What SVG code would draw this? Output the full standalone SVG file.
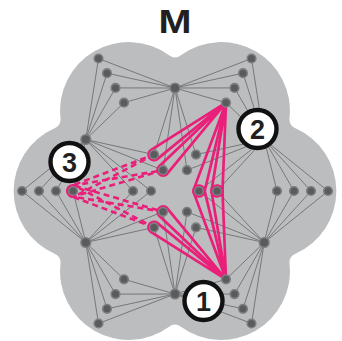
<svg xmlns="http://www.w3.org/2000/svg" width="342" height="341" viewBox="0 0 342 341">
<style>
.blob{fill:#bcbdbf}
.ln{fill:none;stroke:#6e6f72;stroke-width:0.9}
.nd{fill:#5a5b5d;stroke:#7d7e80;stroke-width:1.6}
.pk{fill:none;stroke:#ea1f7a;stroke-width:2.7;stroke-linejoin:round}
.pd{fill:none;stroke:#ea1f7a;stroke-width:2.6;stroke-dasharray:6 4;stroke-linejoin:round}
.lc{fill:#fff;stroke:#111;stroke-width:4.4}
.lt{font-family:"Liberation Sans",Arial,sans-serif;font-weight:bold;font-size:27px;fill:#231f20;text-anchor:middle}
.tt{font-family:"Liberation Sans",Arial,sans-serif;font-weight:bold;font-size:33px;fill:#231f20;text-anchor:middle}
</style>
<path class="blob" d="M180.92 55.35A68.5 68.5 0 0 1 289.51 118.05A10 10 0 0 0 295.44 128.3A68.5 68.5 0 0 1 295.44 253.7A10 10 0 0 0 289.51 263.95A68.5 68.5 0 0 1 180.92 326.65A10 10 0 0 0 169.08 326.65A68.5 68.5 0 0 1 60.49 263.95A10 10 0 0 0 54.56 253.7A68.5 68.5 0 0 1 54.56 128.3A10 10 0 0 0 60.49 118.05A68.5 68.5 0 0 1 169.08 55.35A10 10 0 0 0 180.92 55.35Z"/>
<text class="tt" x="175" y="33" textLength="33" lengthAdjust="spacingAndGlyphs">M</text>
<g id="connectors">
<path class="ln" d="M175 88L163 170.2M175 88L154 154.6M175 88L124 102.7M175 88L115.5 87.9M175 88L107 73.2M175 88L98.5 58.5M175 88L187 170.2M175 88L196 154.6M175 88L226 102.7M175 88L234.5 87.9M175 88L243 73.2M175 88L251.5 58.5"/>
<path class="ln" d="M175 294L187 211.8M175 294L196 227.4M175 294L226 279.3M175 294L234.5 294.1M175 294L243 308.8M175 294L251.5 323.5M175 294L163 211.8M175 294L154 227.4M175 294L124 279.3M175 294L115.5 294.1M175 294L107 308.8M175 294L98.5 323.5"/>
<path class="ln" d="M264.2 242.5L199 191M264.2 242.5L217 191M264.2 242.5L277 191M264.2 242.5L294 191M264.2 242.5L311 191M264.2 242.5L328 191M264.2 242.5L187 211.8M264.2 242.5L196 227.4M264.2 242.5L226 279.3M264.2 242.5L234.5 294.1M264.2 242.5L243 308.8M264.2 242.5L251.5 323.5"/>
<path class="ln" d="M264.2 139.5L199 191M264.2 139.5L217 191M264.2 139.5L277 191M264.2 139.5L294 191M264.2 139.5L311 191M264.2 139.5L328 191M264.2 139.5L187 170.2M264.2 139.5L196 154.6M264.2 139.5L226 102.7M264.2 139.5L234.5 87.9M264.2 139.5L243 73.2M264.2 139.5L251.5 58.5"/>
<path class="ln" d="M85.8 242.5L151 191M85.8 242.5L133 191M85.8 242.5L73 191M85.8 242.5L56 191M85.8 242.5L39 191M85.8 242.5L22 191M85.8 242.5L163 211.8M85.8 242.5L154 227.4M85.8 242.5L124 279.3M85.8 242.5L115.5 294.1M85.8 242.5L107 308.8M85.8 242.5L98.5 323.5"/>
<path class="ln" d="M85.8 139.5L151 191M85.8 139.5L133 191M85.8 139.5L73 191M85.8 139.5L56 191M85.8 139.5L39 191M85.8 139.5L22 191M85.8 139.5L163 170.2M85.8 139.5L154 154.6M85.8 139.5L124 102.7M85.8 139.5L115.5 87.9M85.8 139.5L107 73.2M85.8 139.5L98.5 58.5"/>
</g>
<g id="highlight-2">
<path class="pk" d="M226 102.67L150.78 150.17A5.5 5.5 0 0 0 157.22 159.09Z"/>
<path class="pk" d="M226 102.67L158.98 166.47A5.5 5.5 0 0 0 167.02 173.97Z"/>
<path class="pk" d="M226 102.67L193.74 189.39A5.5 5.5 0 0 0 204.26 192.61Z"/>
<path class="pk" d="M226 102.67L211.53 190.44A5.5 5.5 0 0 0 222.47 191.56Z"/>
</g>
<g id="highlight-1">
<path class="pk" d="M226 279.33L204.26 189.39A5.5 5.5 0 0 0 193.74 192.61Z"/>
<path class="pk" d="M226 279.33L222.47 190.44A5.5 5.5 0 0 0 211.53 191.56Z"/>
<path class="pk" d="M226 279.33L167.02 208.03A5.5 5.5 0 0 0 158.98 215.53Z"/>
<path class="pk" d="M226 279.33L157.22 222.91A5.5 5.5 0 0 0 150.78 231.83Z"/>
</g>
<g id="highlight-3">
<path class="pd" d="M154 154.63L75.25 196.02A5.5 5.5 0 0 1 70.75 185.98Z"/>
<path class="pd" d="M163 170.22L74.24 196.36A5.5 5.5 0 0 1 71.76 185.64Z"/>
<path class="pd" d="M163 211.78L71.76 196.36A5.5 5.5 0 0 1 74.24 185.64Z"/>
<path class="pd" d="M154 227.37L70.75 196.02A5.5 5.5 0 0 1 75.25 185.98Z"/>
</g>
<g id="nodes">
<circle class="nd" cx="175" cy="88" r="4.8"/>
<circle class="nd" cx="175" cy="294" r="4.8"/>
<circle class="nd" cx="264.2" cy="242.5" r="4.8"/>
<circle class="nd" cx="264.2" cy="139.5" r="4.8"/>
<circle class="nd" cx="85.8" cy="242.5" r="4.8"/>
<circle class="nd" cx="85.8" cy="139.5" r="4.8"/>
<circle class="nd" cx="199" cy="191" r="4.3"/><circle class="nd" cx="217" cy="191" r="4.3"/><circle class="nd" cx="277" cy="191" r="4.3"/><circle class="nd" cx="294" cy="191" r="4.3"/><circle class="nd" cx="311" cy="191" r="4.3"/><circle class="nd" cx="328" cy="191" r="4.3"/>
<circle class="nd" cx="187" cy="211.8" r="4.3"/><circle class="nd" cx="196" cy="227.4" r="4.3"/><circle class="nd" cx="226" cy="279.3" r="4.3"/><circle class="nd" cx="234.5" cy="294.1" r="4.3"/><circle class="nd" cx="243" cy="308.8" r="4.3"/><circle class="nd" cx="251.5" cy="323.5" r="4.3"/>
<circle class="nd" cx="163" cy="211.8" r="4.3"/><circle class="nd" cx="154" cy="227.4" r="4.3"/><circle class="nd" cx="124" cy="279.3" r="4.3"/><circle class="nd" cx="115.5" cy="294.1" r="4.3"/><circle class="nd" cx="107" cy="308.8" r="4.3"/><circle class="nd" cx="98.5" cy="323.5" r="4.3"/>
<circle class="nd" cx="151" cy="191" r="4.3"/><circle class="nd" cx="133" cy="191" r="4.3"/><circle class="nd" cx="73" cy="191" r="4.3"/><circle class="nd" cx="56" cy="191" r="4.3"/><circle class="nd" cx="39" cy="191" r="4.3"/><circle class="nd" cx="22" cy="191" r="4.3"/>
<circle class="nd" cx="163" cy="170.2" r="4.3"/><circle class="nd" cx="154" cy="154.6" r="4.3"/><circle class="nd" cx="124" cy="102.7" r="4.3"/><circle class="nd" cx="115.5" cy="87.9" r="4.3"/><circle class="nd" cx="107" cy="73.2" r="4.3"/><circle class="nd" cx="98.5" cy="58.5" r="4.3"/>
<circle class="nd" cx="187" cy="170.2" r="4.3"/><circle class="nd" cx="196" cy="154.6" r="4.3"/><circle class="nd" cx="226" cy="102.7" r="4.3"/><circle class="nd" cx="234.5" cy="87.9" r="4.3"/><circle class="nd" cx="243" cy="73.2" r="4.3"/><circle class="nd" cx="251.5" cy="58.5" r="4.3"/>
</g>
<g id="label-2"><circle class="lc" cx="257.5" cy="129" r="19"/><text class="lt" x="257.5" y="138.7">2</text></g>
<g id="label-3"><circle class="lc" cx="69.5" cy="162" r="19"/><text class="lt" x="69.5" y="171.7">3</text></g>
<g id="label-1"><circle class="lc" cx="203.5" cy="301" r="19"/><text class="lt" x="203.5" y="310.7">1</text></g>
</svg>
